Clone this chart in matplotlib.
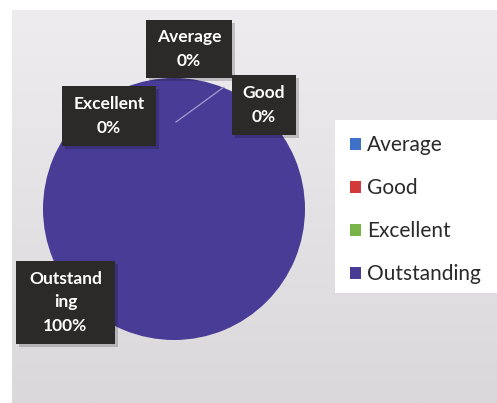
import numpy as np
import matplotlib
matplotlib.use("Agg")
import matplotlib.pyplot as plt
from matplotlib.patches import Rectangle
from matplotlib.colors import LinearSegmentedColormap

# data
categories = ["Average", "Good", "Excellent", "Outstanding"]
values = [0, 0, 0, 100]
label_names = ["Average", "Good", "Excellent", "Outstand\ning"]
colors = ["#3f70c8", "#d23a3a", "#78b44a", "#483c96"]

W, H = 497, 403
plt.rcParams['font.family'] = ['Lato', 'DejaVu Sans']

fig = plt.figure(figsize=(W / 100, H / 100), dpi=100, facecolor="white")
ax = fig.add_axes([0, 0, 1, 1])


def Y(y):
    # pixel row (from top) -> data y
    return H - y


# grey chart background, a bit lighter at the top
grad = np.linspace(0, 1, 200).reshape(-1, 1)
cmap_bg = LinearSegmentedColormap.from_list("bg", ["#efecef", "#dbd8db"])
ax.imshow(grad, extent=(12, W, Y(H), Y(10)), aspect="auto", cmap=cmap_bg,
          origin="upper", zorder=0)

wedges, _ = ax.pie(values, colors=colors, startangle=90, counterclock=False,
                   center=(174, Y(209)), radius=131,
                   wedgeprops=dict(linewidth=0))
for w in wedges:
    w.set_zorder(2)

# leader line from the centre of the small slices
ax.plot([176, 224], [Y(122), Y(87)], color="#a49ad0", lw=0.9, zorder=3)

# data label boxes
total = sum(values)
boxes = [(146, 20, 86, 58), (232, 75, 64, 60), (62, 86, 94, 60), (16, 261, 99, 83)]
for name, v, (bx, by, bw, bh) in zip(label_names, values, boxes):
    ax.add_patch(Rectangle((bx + 3, Y(by + bh + 3)), bw, bh, facecolor="#000000",
                           alpha=0.18, lw=0, zorder=4))
    ax.add_patch(Rectangle((bx, Y(by + bh)), bw, bh, facecolor="#2b2a28",
                           lw=0, zorder=5))
    ax.text(bx + bw / 2, Y(by + bh / 2), f"{name}\n{round(100 * v / total)}%",
            ha="center", va="center", color="white", fontsize=12.5,
            fontweight="bold", linespacing=1.55, zorder=6)

# legend on a white panel
ax.add_patch(Rectangle((335, Y(293)), W - 335, 173, facecolor="white",
                       lw=0, zorder=4))
leg = ax.legend(wedges, categories, loc="upper left",
                bbox_to_anchor=(340 / W, 1 - 125 / H), frameon=False,
                fontsize=15, labelspacing=1.1, handlelength=0.5,
                handleheight=0.5, handletextpad=0.3, borderpad=0)
leg.set_zorder(7)
for t in leg.get_texts():
    t.set_color("#2a2a2a")

ax.set_xlim(0, W)
ax.set_ylim(0, H)
ax.set_aspect("equal")
ax.axis("off")

fig.savefig("out.png", dpi=100, facecolor="white")
